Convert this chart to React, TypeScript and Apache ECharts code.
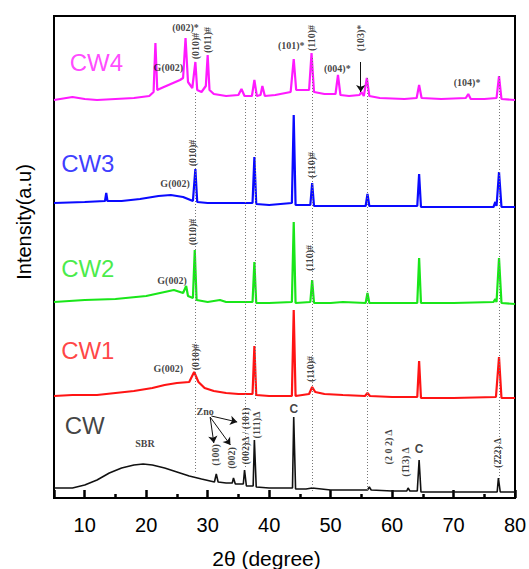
import React, { useEffect, useRef } from "react";
import * as echarts from "echarts";

type P = [number, number];

const sampleNames = ["CW4", "CW3", "CW2", "CW1", "CW"];
const sampleColors = ["#ff1aff", "#0a0aff", "#19e619", "#ff1414", "#111111"];
const sampleOffsets = [398, 295, 196, 102, 6];
const sampleLabelPos: P[] = [[11.9, 436], [10.5, 335], [10.5, 230], [10.5, 148], [10.0, 73]];

const cw4: P[] = [
  [5, 0], [8, 3], [10, 1], [12, 0], [15, 1], [18, 2], [20.5, 4], [21.2, 8], [21.5, 57], [21.8, 10],
  [22.5, 12], [24, 16], [25.5, 20], [26.0, 22], [26.4, 62], [26.8, 18], [27.5, 12], [28.0, 38], [28.3, 10],
  [29, 8], [29.7, 14], [30.0, 45], [30.3, 10], [31, 6], [33, 4], [35, 5], [35.5, 11], [36, 4], [37.2, 4],
  [37.6, 20], [38, 4], [38.6, 5], [38.9, 14], [39.3, 4], [41, 5], [43.5, 8], [44.0, 41], [44.4, 10],
  [46.5, 10], [46.9, 47], [47.3, 8], [49, 6], [50.8, 6], [51.2, 25], [51.6, 5], [53, 4], [54.7, 5],
  [55, 8], [55.4, 4], [55.9, 22], [56.3, 4], [58, 2], [62, 1], [64, 2], [64.4, 15], [64.8, 2], [68, 1],
  [72, 2], [72.4, 6], [72.8, 1], [75, 1], [77, 2], [77.4, 24], [77.8, 1], [80, 0],
];
const cw3: P[] = [
  [5, 0], [10, 1], [13.3, 2], [13.5, 10], [13.7, 2], [16, 2], [19, 4], [22, 7], [24, 8], [26, 6],
  [27.6, 2], [28.0, 34], [28.3, 1], [30, 0], [35, 0], [37.3, 0], [37.6, 46], [37.9, -1], [40, -2],
  [43.7, 0], [44.0, 88], [44.3, -2], [46.7, -2], [47.0, 20], [47.3, -3], [50, -3], [55.7, -3], [56.0, 9],
  [56.3, -3], [60, -3], [64.1, -3], [64.4, 29], [64.7, -4], [70, -4], [76.5, -4], [76.8, 1], [77.0, -3],
  [77.4, 31], [77.8, -4], [80, -4],
];
const cw2: P[] = [
  [5, 0], [10, 2], [15, 3], [20, 6], [23, 10], [24.5, 12], [26, 9], [26.5, 16], [26.8, 6], [27.6, 4],
  [27.9, 52], [28.2, 2], [30, 0], [32, 2], [33, 0], [37.3, 0], [37.6, 40], [37.9, -1], [40, -1],
  [43.7, 0], [44.0, 80], [44.3, -1], [46.7, 0], [47.0, 22], [47.3, -1], [50, -1], [52, 0], [55.7, -1],
  [56.0, 9], [56.3, -1], [64.1, -1], [64.4, 44], [64.7, -1], [70, -1], [76.5, 0], [76.8, 3], [77.0, 0],
  [77.4, 44], [77.8, -1], [80, -2],
];
const cw1: P[] = [
  [5, 0], [8, 1], [12, 1], [15, 3], [18, 5], [21, 8], [23, 11], [25, 13], [27, 14], [27.8, 24],
  [28.5, 14], [29.5, 8], [31, 5], [33, 3], [35, 2], [37.3, 2], [37.6, 50], [37.9, 1], [40, 0], [43.7, 0],
  [44.0, 86], [44.3, 0], [46.5, 2], [47.0, 9], [47.5, 4], [49, 2], [52, 1], [55.6, 0], [56.0, 3],
  [56.4, 0], [60, -1], [64.1, -1], [64.4, 35], [64.7, -2], [70, -2], [76.9, -1], [77.4, 39], [77.8, -2],
  [80, -2],
];
const cw0: P[] = [
  [5, 4], [8, 4], [10, 7], [12, 12], [14, 19], [16, 24], [18, 27], [19.5, 28], [21, 27], [23, 24],
  [25, 20], [27, 16], [29, 13], [31.1, 10], [31.4, 18], [31.7, 10], [33, 9], [34.0, 9], [34.2, 14],
  [34.5, 8], [35.8, 8], [36.0, 22], [36.3, 6], [37.4, 6], [37.6, 52], [37.9, 5], [40, 4], [43.8, 4],
  [44.0, 75], [44.3, 3], [46, 3], [47, 4], [50, 2], [55, 2], [56.0, 2], [56.3, 5], [56.6, 2], [60, 1],
  [62.4, 1], [62.6, 4], [62.9, 1], [64.1, 1], [64.4, 32], [64.7, 0], [70, 0], [77.1, 0], [77.3, 14],
  [77.6, 0], [80, 0],
];
const sampleData: P[][] = [cw4, cw3, cw2, cw1, cw0];

const xTickMin = 5;
const xTickMax = 80;
const yMax = 482;

// [2theta, y, text, rotated]
const peakLabels: [number, number, string, boolean][] = [
  [23.6, 431, "G(002)", false],
  [26.4, 471, "(002)*", false],
  [28.0, 452, "(010)#", true],
  [29.95, 458, "(011)#", true],
  [43.6, 453, "(101)*", false],
  [46.9, 460, "(110)#", true],
  [51.1, 430, "(004)*", false],
  [54.9, 460, "(103)*", true],
  [72.2, 416, "(104)*", false],
  [27.5, 345, "(010)#", true],
  [24.7, 315, "G(002)", false],
  [46.9, 333, "(110)#", true],
  [27.5, 266, "(010)#", true],
  [24.2, 218, "G(002)", false],
  [46.6, 240, "(110)#", true],
  [28.0, 141, "(010)#", true],
  [23.6, 130, "G(002)", false],
  [46.7, 129, "(110)#", true],
  [19.8, 55, "SBR", false],
  [29.6, 87, "Zno", false],
  [31.3, 43, "(100)", true],
  [33.9, 40, "(002)", true],
  [36.1, 62, "(002)Δ / (101)", true],
  [37.9, 73, "(111)Δ", true],
  [59.5, 51, "(2 0 2) Δ", true],
  [62.2, 36, "(1\u030413) Δ", true],
  [77.2, 45, "(2\u030422) Δ", true],
];
const phaseMarks: [number, number, string][] = [
  [44.0, 89, "C"],
  [64.4, 49, "C"],
];

// [2theta, yFrom, yTo]
const guideLines: [number, number, number][] = [
  [28.0, 405, 26],
  [37.7, 406, 98],
  [36.1, 398, 30],
  [47.0, 440, 5],
  [56.0, 420, 8],
  [77.4, 422, 18],
];
// [x1, y1, x2, y2]
const arrows: [number, number, number, number][] = [
  [54.9, 436, 54.9, 406],
  [30.4, 81, 31.0, 55],
  [30.4, 81, 33.7, 53],
  [30.6, 82, 34.8, 76],
];

export default function App() {
  const ref = useRef<HTMLDivElement>(null);
  useEffect(() => {
    if (!ref.current) return;
    const chart = echarts.init(ref.current, undefined, { renderer: "svg" });
    const lineSeries = sampleData.map((d, i) => ({
      name: sampleNames[i],
      type: "line",
      data: d.map((p) => [p[0], p[1] + sampleOffsets[i]]),
      showSymbol: false,
      symbol: "none",
      lineStyle: { color: sampleColors[i], width: i === 4 ? 1.6 : 2.2 },
      itemStyle: { color: sampleColors[i] },
      z: 3,
    }));
    const option: any = {
      animation: false,
      backgroundColor: "#fff",
      grid: {
        left: 54, right: 14, top: 16, bottom: 71,
        containLabel: false, outerBoundsMode: "none",
        show: true, borderColor: "#000", borderWidth: 2, backgroundColor: "transparent",
      },
      xAxis: {
        type: "value",
        min: xTickMin,
        max: xTickMax,
        splitNumber: 7,
        name: "2θ (degree)",
        nameLocation: "middle",
        nameGap: 50,
        nameTextStyle: { fontSize: 21, color: "#000", fontFamily: "Liberation Sans, Arial", padding: [0, 36, 0, 0] },
        axisLine: { lineStyle: { color: "#000", width: 2 } },
        axisTick: { inside: true, length: 8, lineStyle: { color: "#000", width: 2.5 } },
        minorTick: { show: true, splitNumber: 2, length: 4, lineStyle: { color: "#000", width: 2.5 } },
        axisLabel: { fontSize: 20, color: "#000", margin: 17, fontFamily: "Liberation Sans, Arial", showMinLabel: false },
        splitLine: { show: false },
      },
      yAxis: {
        type: "value",
        min: 0,
        max: yMax,
        axisLine: { show: true, lineStyle: { color: "#000", width: 2 } },
        axisTick: { show: false },
        axisLabel: { show: false },
        splitLine: { show: false },
      },
      graphic: [
        {
          type: "text",
          x: 24,
          y: 222,
          rotation: Math.PI / 2,
          style: { text: "Intensity(a.u)", fill: "#000", font: "20px 'Liberation Sans', Arial", textAlign: "center", textVerticalAlign: "middle" },
        },
      ],
      series: [
        ...lineSeries,
        {
          type: "line",
          data: [],
          silent: true,
          markLine: {
            silent: true,
            symbol: ["none", "none"],
            label: { show: false },
            lineStyle: { color: "#777", width: 1, type: [1, 2] },
            data: guideLines.map((g) => [{ coord: [g[0], g[1]] }, { coord: [g[0], g[2]] }]),
          },
          z: 1,
        },
        {
          type: "line",
          data: [],
          silent: true,
          markLine: {
            silent: true,
            symbol: ["none", "arrow"],
            symbolSize: 7,
            label: { show: false },
            lineStyle: { color: "#111", width: 1, type: "solid" },
            data: arrows.map((a) => [{ coord: [a[0], a[1]] }, { coord: [a[2], a[3]] }]),
          },
          z: 4,
        },
        {
          type: "scatter",
          symbolSize: 0,
          silent: true,
          z: 5,
          data: peakLabels.map((l) => ({
            value: [l[0], l[1]],
            name: l[2],
            label: { rotate: l[3] ? 90 : 0 },
          })),
          label: {
            show: true,
            position: "inside",
            formatter: "{b}",
            fontFamily: "Liberation Serif, Times New Roman",
            fontWeight: "bold",
            fontSize: 10,
            color: "#111",
          },
        },
        {
          type: "scatter",
          symbolSize: 0,
          silent: true,
          z: 5,
          data: phaseMarks.map((l) => ({ value: [l[0], l[1]], name: l[2] })),
          label: {
            show: true,
            position: "inside",
            formatter: "{b}",
            fontFamily: "Liberation Sans, Arial",
            fontWeight: "bold",
            fontSize: 12,
            color: "#111",
          },
        },
        {
          type: "scatter",
          symbolSize: 0,
          silent: true,
          z: 5,
          data: sampleLabelPos.map((p, i) => ({
            value: p,
            name: sampleNames[i],
            label: { color: sampleColors[i] },
          })),
          label: {
            show: true,
            position: "inside",
            formatter: "{b}",
            fontFamily: "Liberation Sans, Arial",
            fontSize: 24,
          },
        },
      ],
    };
    chart.setOption(option);
    return () => chart.dispose();
  }, []);
  return <div ref={ref} style={{ position: "absolute", left: 0, top: 0, width: 529, height: 569 }} />;
}
